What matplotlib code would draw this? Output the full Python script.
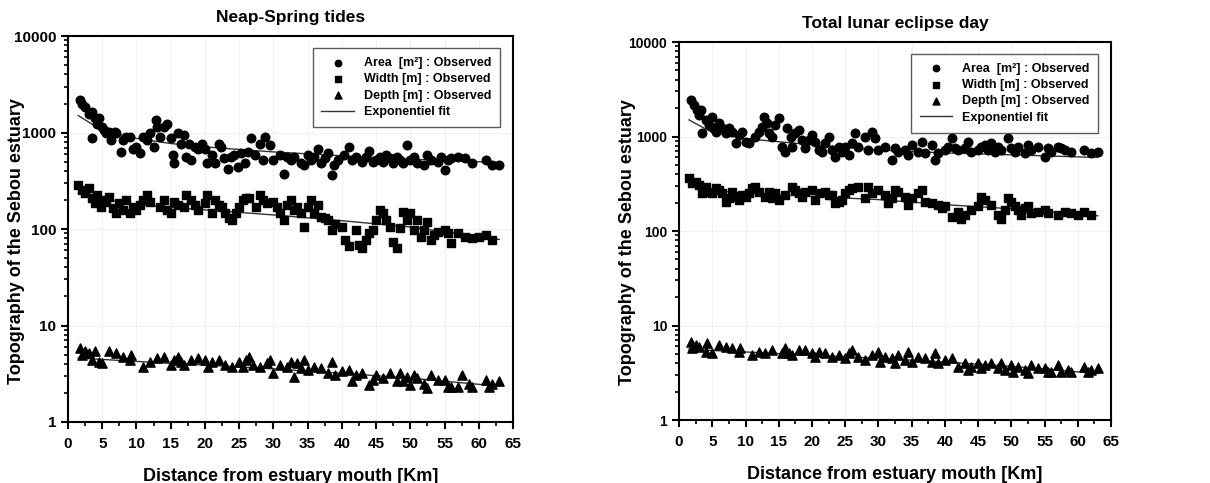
import matplotlib
matplotlib.use('Agg')
import matplotlib.pyplot as plt
import matplotlib.ticker as mticker
import numpy as np

plt.rcParams['font.family'] = ['Liberation Sans', 'DejaVu Sans']
plt.rcParams['font.weight'] = 'bold'

# ---------------------------------------------------------------------
# Neap-Spring tides (left panel)
# ---------------------------------------------------------------------
ns_area_x = [1.8, 2, 2.5, 3, 3.5, 3.5, 4, 4.3, 4.5, 5, 5.2, 5.5, 6, 6.3, 6.8, 7, 7.8, 8, 8.5, 9,
             9.5, 10, 10.5, 11, 11.5, 12, 12.5, 12.8, 13, 13.5, 14, 14.5, 15, 15.3, 15.5, 16, 16.5,
             17, 17.3, 17.7, 18, 18.5, 19, 19.5, 20, 20.3, 21, 21.5, 22, 22.3, 22.8, 23.3, 23.8,
             24.3, 24.8, 25.3, 25.8, 26.3, 26.7, 27.3, 28, 28.5, 28.8, 29.5, 30, 31, 31.5, 32,
             32.5, 33, 34, 34.5, 35, 35.5, 36, 36.5, 37, 37.5, 38, 38.5, 38.8, 39.5, 40.3, 41,
             41.5, 42, 43, 43.5, 44, 44.5, 45, 45.5, 46, 46.5, 47, 47.5, 48, 48.5, 49, 49.5, 50,
             50.5, 51, 52, 52.5, 53, 54, 54.5, 55, 55.5, 56, 57, 58, 59, 61, 62, 63]
ns_area_y = [2160, 1995, 1850, 1570, 1640, 880, 1400, 1240, 1400, 1140, 1060, 980, 1020, 830, 1020,
             980, 630, 830, 900, 900, 680, 710, 610, 900, 830, 980, 710, 1340, 1140, 900, 1140,
             1240, 870, 580, 480, 980, 770, 940, 560, 770, 520, 710, 680, 770, 680, 480, 580, 480,
             770, 710, 540, 420, 560, 580, 440, 610, 480, 630, 870, 580, 770, 520, 900, 740, 520,
             580, 375, 560, 520, 560, 480, 460, 580, 520, 560, 680, 480, 540, 610, 360, 460, 520,
             580, 710, 520, 560, 500, 560, 650, 500, 520, 560, 500, 580, 540, 480, 560, 520, 480,
             740, 520, 560, 480, 460, 580, 520, 500, 560, 410, 520, 540, 560, 540, 480, 520, 460,
             460]

ns_width_x = [1.5, 2, 2.5, 3, 3.5, 4, 4.3, 4.8, 5, 5.5, 6, 6.5, 7, 7.5, 8, 8.5, 9, 9.5, 10, 10.5,
              11, 11.5, 12, 13.5, 14, 14.5, 15, 15.5, 16, 17, 17.3, 18, 18.5, 19, 20, 20.3, 21,
              21.5, 22, 22.5, 23, 23.5, 24, 24.5, 25, 25.5, 26, 26.5, 27.5, 28, 28.5, 29, 30,
              30.5, 31, 31.5, 32, 32.5, 33, 33.5, 34, 34.5, 35, 35.5, 36, 36.5, 37, 37.5, 38,
              38.5, 39, 40, 40.5, 41, 42, 42.5, 43, 43.5, 44, 44.5, 45, 45.5, 46, 46.5, 47, 47.5,
              48, 48.5, 49, 49.5, 50, 50.5, 51, 51.5, 52, 52.5, 53, 53.5, 54, 55, 55.5, 56, 57,
              58, 59, 60, 61, 62]
ns_width_y = [286, 253, 234, 264, 208, 184, 225, 170, 200, 192, 216, 164, 145, 184, 157, 200, 145,
              170, 157, 177, 200, 225, 192, 170, 200, 157, 145, 192, 177, 170, 225, 200, 177, 157,
              184, 225, 145, 200, 177, 170, 145, 129, 124, 145, 170, 200, 208, 208, 170, 225, 200,
              184, 192, 170, 145, 124, 177, 200, 157, 170, 145, 106, 170, 200, 145, 177, 134, 129,
              124, 98, 114, 106, 77, 66, 98, 68, 63, 77, 90, 98, 124, 157, 145, 124, 106, 74, 63,
              102, 151, 124, 145, 98, 124, 83, 98, 119, 77, 87, 94, 98, 90, 71, 90, 83, 80, 83,
              87, 77]

ns_depth_x = [1.8, 2, 2.5, 3, 3.5, 4, 4.5, 5, 6, 7, 8, 9, 9.2, 11, 12, 13, 14, 15, 15.5, 16,
              16.5, 17, 18, 19, 20, 20.5, 21, 22, 23, 24, 25, 25.5, 26, 26.5, 27, 28, 29, 29.5,
              30, 31, 32, 32.5, 33, 33.5, 34, 34.5, 35, 36, 37, 38, 38.5, 39, 40, 41, 41.5, 42,
              43, 44, 44.5, 45, 46, 47, 48, 48.5, 49, 49.5, 50, 50.5, 51, 52, 52.5, 53, 54, 55,
              55.5, 56, 57, 57.5, 58.5, 59, 61, 61.5, 62, 63]
ns_depth_y = [5.82, 4.97, 5.38, 5.17, 4.41, 5.38, 4.23, 4.07, 5.38, 5.17, 4.77, 4.41, 4.97, 3.76,
              4.23, 4.58, 4.77, 3.91, 4.41, 4.77, 4.23, 3.91, 4.41, 4.58, 4.41, 3.76, 4.23, 4.41,
              3.91, 3.76, 4.23, 3.76, 4.41, 4.77, 3.91, 3.76, 4.07, 4.41, 3.21, 3.91, 3.76, 4.23,
              2.96, 4.07, 3.61, 4.41, 3.47, 3.76, 3.61, 3.21, 4.23, 3.08, 3.34, 3.47, 2.63, 3.08,
              3.21, 2.42, 2.74, 3.08, 2.85, 3.21, 2.63, 3.21, 2.63, 2.96, 2.42, 3.08, 2.85, 2.49,
              2.24, 3.08, 2.74, 2.74, 2.33, 2.33, 2.33, 3.08, 2.49, 2.33, 2.74, 2.33, 2.49, 2.63]

# exponential fit curves
ns_fit_x = [1.5, 5, 10, 15, 20, 30, 40, 50, 63]
ns_fit_area = [1500, 1050, 870, 770, 710, 630, 575, 530, 490]
ns_fit_width = [235, 205, 180, 168, 158, 140, 122, 105, 78]
ns_fit_depth = [4.6, 4.45, 4.25, 4.05, 3.9, 3.55, 3.2, 2.85, 2.35]

# ---------------------------------------------------------------------
# Total lunar eclipse day (right panel)
# ---------------------------------------------------------------------
le_area_x = [1.8, 2.2, 2.7, 3, 3.3, 3.5, 4, 4.5, 5, 5.3, 5.5, 6, 6.5, 7, 7.5, 8, 8.5, 9, 9.5, 10,
             10.5, 11.5, 12, 12.5, 12.8, 13.2, 13.5, 14, 14.5, 15, 15.5, 16, 16.3, 16.8, 17, 17.5,
             18, 18.5, 19, 19.5, 20, 20.5, 21, 21.5, 22, 22.5, 23, 23.5, 24, 24.5, 25, 25.5, 26,
             26.5, 27, 28, 28.5, 29, 29.5, 30, 31, 32, 32.5, 33, 34, 34.5, 35, 36, 36.5, 37, 38,
             38.5, 39, 40, 40.5, 41, 41.5, 42, 43, 43.5, 44, 45, 45.5, 46, 46.5, 47, 47.5, 48,
             48.5, 49.5, 50, 50.5, 51, 52, 52.5, 53, 54, 55, 55.5, 56, 57, 57.5, 58, 59, 61, 62,
             63]
le_area_y = [2445, 2167, 1916, 1696, 1916, 1085, 1501, 1329, 1628, 1225, 1130, 1384, 1225, 1085,
             1225, 1130, 850, 1040, 1130, 885, 850, 1000, 1130, 1276, 1628, 1384, 1085, 1000, 1329,
             1563, 784, 694, 1225, 1000, 784, 1085, 1176, 922, 752, 922, 1040, 885, 723, 694, 850,
             1000, 723, 614, 784, 694, 784, 640, 850, 1085, 784, 1000, 723, 1130, 960, 723, 784,
             566, 752, 694, 723, 640, 816, 694, 885, 666, 816, 566, 666, 723, 784, 960, 752, 723,
             752, 885, 694, 723, 784, 816, 723, 850, 694, 784, 723, 960, 752, 694, 784, 666, 816,
             723, 784, 614, 752, 694, 784, 752, 723, 694, 723, 666, 694]

le_width_x = [1.5, 2, 2.5, 3, 3.5, 4, 4.5, 5, 5.5, 6, 6.5, 7, 7.5, 8, 8.5, 9, 9.5, 10, 10.5, 11,
              11.5, 12, 13, 13.5, 14, 14.5, 15, 16, 17, 17.5, 18, 18.5, 19, 20, 20.5, 21, 22,
              22.5, 23, 23.5, 24, 24.5, 25, 25.5, 26, 27, 28, 28.5, 29, 30, 31, 31.5, 32, 32.5,
              33, 34, 34.5, 35, 36, 36.5, 37, 38, 39, 39.5, 40, 41, 42, 42.5, 43, 44, 45, 45.5,
              46, 47, 48, 48.5, 49, 49.5, 50, 50.5, 51, 51.5, 52, 52.5, 53, 54, 55, 55.5, 57, 58,
              59, 60, 61, 62]
le_width_y = [361, 320, 333, 307, 250, 295, 261, 250, 283, 272, 250, 204, 222, 261, 231, 213, 240,
              231, 250, 283, 295, 261, 231, 261, 222, 250, 213, 240, 295, 272, 250, 231, 261, 272,
              213, 250, 261, 240, 240, 196, 204, 213, 250, 272, 283, 295, 222, 295, 250, 272, 240,
              196, 222, 272, 261, 231, 189, 222, 250, 272, 204, 196, 189, 175, 185, 142, 160, 134,
              148, 167, 185, 231, 213, 189, 148, 134, 167, 222, 204, 185, 167, 148, 175, 185, 154,
              160, 167, 154, 148, 160, 154, 148, 160, 148]

le_depth_x = [1.8, 2, 2.5, 3, 4, 4.2, 5, 6, 7, 8, 9, 9.2, 11, 12, 13, 14, 15.5, 16, 16.5, 17, 18,
              19, 20, 20.5, 21, 22, 23, 24, 25, 25.5, 26, 27, 28, 29, 30, 30.3, 31, 32, 32.5, 33,
              34, 34.5, 35, 36, 37, 38, 38.5, 39, 40, 41, 42, 43, 43.5, 44, 45, 45.5, 46, 47, 48,
              48.5, 49, 50, 50.3, 51, 52, 52.5, 53, 54, 55, 55.5, 56, 57, 57.5, 58.5, 59, 61,
              61.5, 62, 63]
le_depth_y = [6.77, 5.75, 6.24, 5.99, 5.30, 6.50, 5.09, 6.24, 5.99, 5.75, 5.30, 5.75, 4.89, 5.30,
              5.09, 5.52, 5.09, 5.75, 5.09, 4.89, 5.52, 5.52, 5.09, 4.70, 5.30, 5.09, 4.70, 4.89,
              4.51, 5.09, 5.52, 4.70, 4.33, 4.89, 5.30, 4.16, 4.70, 4.51, 3.99, 4.89, 4.33, 5.30,
              4.16, 4.70, 4.51, 4.16, 5.09, 3.99, 4.33, 4.51, 3.68, 3.99, 3.39, 3.68, 3.99, 3.53,
              3.83, 3.99, 3.53, 3.99, 3.39, 3.83, 3.26, 3.68, 3.39, 3.13, 3.83, 3.53, 3.53, 3.26,
              3.26, 3.83, 3.26, 3.39, 3.26, 3.68, 3.26, 3.39, 3.53]

le_fit_x = [1.5, 5, 10, 15, 20, 30, 40, 50, 63]
le_fit_area = [1500, 1100, 950, 880, 820, 720, 670, 640, 600]
le_fit_width = [300, 270, 250, 240, 232, 215, 190, 172, 145]
le_fit_depth = [5.6, 5.45, 5.25, 5.05, 4.85, 4.5, 4.1, 3.7, 3.1]

titles = ['Neap-Spring tides', 'Total lunar eclipse day']


def draw_panel(ax, title, area, width, depth, fit, ylab_x, ytick_size):
    ax.scatter(*area, marker='o', s=38, c='black', zorder=3, label='Area  [m²] : Observed')
    ax.scatter(*width, marker='s', s=34, c='black', zorder=3, label='Width [m] : Observed')
    ax.scatter(*depth, marker='^', s=44, c='black', zorder=3, label='Depth [m] : Observed')
    fx = fit[0]
    ax.plot(fx, fit[1], color='#333333', lw=1, zorder=2, label='Exponentiel fit')
    ax.plot(fx, fit[2], color='#333333', lw=1, zorder=2)
    ax.plot(fx, fit[3], color='#333333', lw=1, zorder=2)

    ax.set_yscale('log')
    ax.set_ylim(1, 10000)
    ax.set_xlim(0, 65)
    ax.xaxis.set_major_locator(mticker.MultipleLocator(5))
    ax.xaxis.set_minor_locator(mticker.MultipleLocator(2.5))
    ax.yaxis.set_major_locator(mticker.LogLocator(base=10))
    ax.yaxis.set_minor_locator(mticker.LogLocator(base=10, subs=np.arange(2, 10)))
    ax.yaxis.set_major_formatter(mticker.FuncFormatter(lambda v, p: '%d' % v))
    ax.yaxis.set_minor_formatter(mticker.NullFormatter())
    ax.tick_params(which='major', direction='out', length=5, width=1.5)
    ax.tick_params(axis='x', which='major', pad=6, labelsize=11)
    ax.tick_params(axis='y', which='major', labelsize=ytick_size)
    ax.tick_params(which='minor', direction='out', length=3, width=1.2)
    for lbl in ax.get_xticklabels() + ax.get_yticklabels():
        lbl.set_fontweight('bold')
    for sp in ax.spines.values():
        sp.set_linewidth(1.5)
    ax.grid(True, which='major', color='#f0f0f0', lw=0.6, zorder=0)

    ax.set_title(title, fontsize=12.5, fontweight='bold', pad=10)
    ax.set_xlabel('Distance from estuary mouth [Km]', fontsize=13, fontweight='bold', labelpad=12)
    ax.set_ylabel('Topography of the Sebou estuary', fontsize=13, fontweight='bold')
    ax.yaxis.set_label_coords(ylab_x, 0.47)

    leg = ax.legend(loc='upper right', fontsize=9, frameon=True, fancybox=False,
                    edgecolor='#333333', markerscale=0.75, handlelength=2.6,
                    borderpad=0.7, labelspacing=0.35, bbox_to_anchor=(0.985, 0.985))
    leg.get_frame().set_linewidth(1.0)
    for t in leg.get_texts():
        t.set_fontweight('bold')


fig = plt.figure(figsize=(12.1, 4.83), dpi=100)
ax1 = fig.add_axes([0.0562, 0.1263, 0.3678, 0.799])
ax2 = fig.add_axes([0.5612, 0.1304, 0.357, 0.7826])

draw_panel(ax1, titles[0], (ns_area_x, ns_area_y), (ns_width_x, ns_width_y),
           (ns_depth_x, ns_depth_y), (ns_fit_x, ns_fit_area, ns_fit_width, ns_fit_depth),
           -0.097, 11)
draw_panel(ax2, titles[1], (le_area_x, le_area_y), (le_width_x, le_width_y),
           (le_depth_x, le_depth_y), (le_fit_x, le_fit_area, le_fit_width, le_fit_depth),
           -0.099, 10)

fig.savefig('out.png', dpi=100)
